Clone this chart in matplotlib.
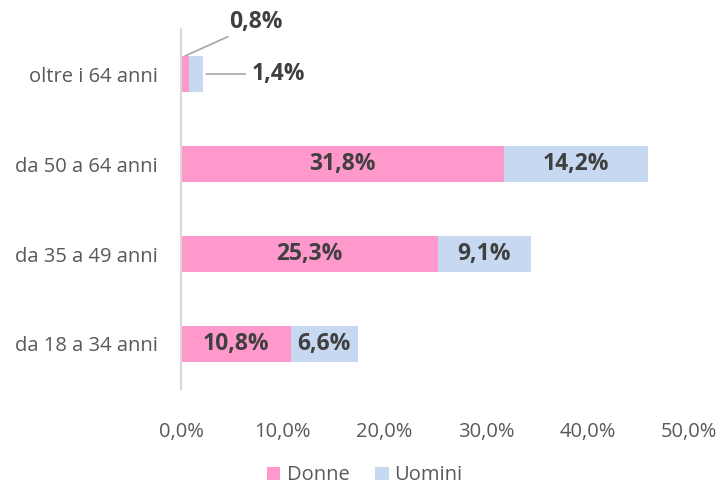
import matplotlib.pyplot as plt
import numpy as np

categories = ["da 18 a 34 anni", "da 35 a 49 anni", "da 50 a 64 anni", "oltre i 64 anni"]
donne = [10.8, 25.3, 31.8, 0.8]
uomini = [6.6, 9.1, 14.2, 1.4]
series_names = ["Donne", "Uomini"]
xticks = [0, 10, 20, 30, 40, 50]

PINK = "#FF99CC"
BLUE = "#C6D9F0"
TXT = "#404040"
plt.rcParams["font.family"] = ["Open Sans", "DejaVu Sans"]

fig = plt.figure(figsize=(7.2, 4.86), dpi=100)
ax = fig.add_axes([0.2514, 0.1996, 0.7056, 0.7407])
y = np.arange(len(categories))
ax.barh(y, donne, height=0.4, color=PINK, label=series_names[0])
ax.barh(y, uomini, left=donne, height=0.4, color=BLUE, label=series_names[1])

def fmt(v):
    return f"{v:.1f}%".replace(".", ",")

LBL = 16.5
for i in range(len(categories) - 1):
    ax.text(donne[i] / 2, y[i], fmt(donne[i]), ha="center", va="center", fontsize=LBL, fontweight="bold", color=TXT)
    ax.text(donne[i] + uomini[i] / 2, y[i], fmt(uomini[i]), ha="center", va="center", fontsize=LBL, fontweight="bold", color=TXT)

# small bar: labels with leader lines
i = len(categories) - 1
ax.annotate(fmt(donne[i]), xy=(donne[i] / 2, y[i] + 0.2), xytext=(4.7, y[i] + 0.58), ha="left", va="center",
            fontsize=LBL, fontweight="bold", color=TXT,
            arrowprops=dict(arrowstyle="-", color="#A6A6A6", lw=1.2, shrinkA=0, shrinkB=0,
                            relpos=(0.1, 0.0)), annotation_clip=False)
ax.annotate(fmt(uomini[i]), xy=(donne[i] + uomini[i], y[i]), xytext=(7.0, y[i]), ha="left", va="center",
            fontsize=LBL, fontweight="bold", color=TXT,
            arrowprops=dict(arrowstyle="-", color="#A6A6A6", lw=1.2, shrinkA=3, shrinkB=2),
            annotation_clip=False)

ax.set_xlim(0, 50)
ax.set_ylim(-0.5, 3.5)
ax.set_xticks(xticks)
ax.set_xticklabels([fmt(t) for t in xticks], fontsize=14.5, color="#595959")
ax.set_yticks(y)
ax.set_yticklabels(categories, fontsize=14.5, color="#595959")
ax.tick_params(length=0, pad=24, axis="x")
ax.tick_params(length=0, pad=17, axis="y")
for s in ["top", "right", "bottom"]:
    ax.spines[s].set_visible(False)
ax.spines["left"].set_color("#D9D9D9")
ax.spines["left"].set_linewidth(1.5)

fig.legend(loc="center", bbox_to_anchor=(0.507, 0.022), ncol=2, frameon=False, fontsize=14.5,
           handlelength=0.65, handleheight=0.65, handletextpad=0.3, columnspacing=1.3, labelcolor="#595959")
fig.savefig("out.png", dpi=100)
